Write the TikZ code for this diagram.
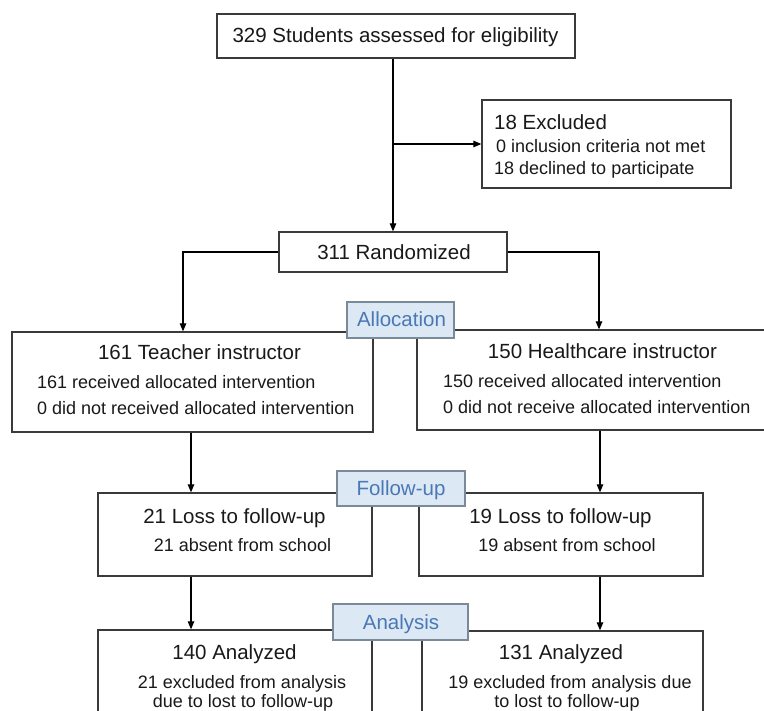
\documentclass[tikz,border=0pt]{standalone}
\usepackage{fontspec}
\setmainfont{Liberation Sans}
\usetikzlibrary{arrows.meta}
\definecolor{boxgray}{HTML}{3A3A3A}
\definecolor{labfill}{HTML}{DCE8F4}
\definecolor{labdraw}{HTML}{7A8A99}
\definecolor{labtext}{HTML}{4A78B5}
\tikzset{
  box/.style={draw=boxgray, line width=1.3pt, fill=white, rectangle, inner sep=0pt},
  labbox/.style={draw=labdraw, line width=1.1pt, fill=labfill, rectangle, inner sep=0pt},
  big/.style={inner sep=0pt, anchor=base, font=\fontsize{20.5}{24}\selectfont, text=black!90},
  small/.style={inner sep=0pt, anchor=base, font=\fontsize{18}{22}\selectfont, text=black!90},
  labtxt/.style={inner sep=0pt, anchor=base, font=\fontsize{20.5}{24}\selectfont, text=labtext},
  arr/.style={draw=black, line width=1.2pt, -{Triangle[length=8pt,width=6.5pt]}},
  ln/.style={draw=black, line width=1.2pt}
}
\begin{document}
\begin{tikzpicture}[x=1pt,y=-1pt]
\useasboundingbox (0,0) rectangle (764,711);
\clip (0,0) rectangle (764,711);
\fill[white] (0,0) rectangle (764,711);
% boxes
\node[box, minimum width=358pt, minimum height=44pt] (top) at (396,36) {};
\node[box, minimum width=249pt, minimum height=88pt] (excl) at (606.5,144) {};
\node[box, minimum width=228pt, minimum height=40pt] (rand) at (393,252) {};
\node[box, minimum width=361pt, minimum height=100pt] (teach) at (192.5,382) {};
\node[box, minimum width=358pt, minimum height=100pt] (health) at (596,380) {};
\node[box, minimum width=274pt, minimum height=83pt] (fl) at (235,534.5) {};
\node[box, minimum width=284pt, minimum height=83pt] (fr) at (561,534.5) {};
\node[box, minimum width=274pt, minimum height=110pt] (al) at (235,685) {};
\node[box, minimum width=281pt, minimum height=109pt] (ar) at (562.5,685.5) {};
% connectors
\draw[arr] (rand.north |- top.south) -- (rand.north);
\draw[arr] (rand.north |- excl.west) -- (excl.west);
\draw[arr] (rand.west) -| ([xshift=-9.5pt]teach.north);
\draw[arr] (rand.east) -| ([xshift=3pt]health.north);
\draw[arr] ([xshift=-1.5pt]teach.south) -- ([xshift=-1.5pt]teach.south |- fl.north);
\draw[arr] ([xshift=4pt]health.south) -- ([xshift=4pt]health.south |- fr.north);
\draw[arr] ([xshift=-44pt]fl.south) -- ([xshift=-44pt]fl.south |- al.north);
\draw[arr] ([xshift=39pt]fr.south) -- ([xshift=39pt]fr.south |- ar.north);
% stage labels
\node[labbox, minimum width=107pt, minimum height=36pt] (alloc) at (400.5,320) {};
\node[labbox, minimum width=128pt, minimum height=35pt] (follab) at (401,488.5) {};
\node[labbox, minimum width=135pt, minimum height=36pt] (anlab) at (400.5,622) {};
\node[labtxt] (tAlloc) at (401.5,327) {Allocation};
\node[labtxt] (tFol) at (401,496) {Follow-up};
\node[labtxt] (tAn) at (401,629) {Analysis};
% texts
\node[big] (t1) at (395.5,43) {329 Students assessed for eligibility};
\node[big, anchor=base west] (e1) at (494,130) {18 Excluded};
\node[small, anchor=base west] (e2) at (496,153) {0 inclusion criteria not met};
\node[small, anchor=base west] (e3) at (494,175) {18 declined to participate};
\node[big] (r1) at (394,260) {311 Randomized};
\node[big] (a1) at (199.5,360) {161 Teacher instructor};
\node[small, anchor=base west] (a2) at (37,389) {161 received allocated intervention};
\node[small, anchor=base west] (a3) at (37,415) {0 did not received allocated intervention};
\node[big] (b1) at (602.5,359) {150 Healthcare instructor};
\node[small, anchor=base west] (b2) at (443,388) {150 received allocated intervention};
\node[small, anchor=base west] (b3) at (443,414) {0 did not receive allocated intervention};
\node[big] (f1) at (234.5,524) {21 Loss to follow-up};
\node[small] (f2) at (242.5,551) {21 absent from school};
\node[big] (g1) at (560.5,524) {19 Loss to follow-up};
\node[small] (g2) at (567,551) {19 absent from school};
\node[big] (h1) at (234.5,659) {140 Analyzed};
\node[small] (h2) at (242,688) {21 excluded from analysis};
\node[small] (h3) at (243,707) {due to lost to follow-up};
\node[big] (k1) at (561,659) {131 Analyzed};
\node[small] (k2) at (570,688) {19 excluded from analysis due};
\node[small] (k3) at (567,707) {to lost to follow-up};
\end{tikzpicture}
\end{document}
